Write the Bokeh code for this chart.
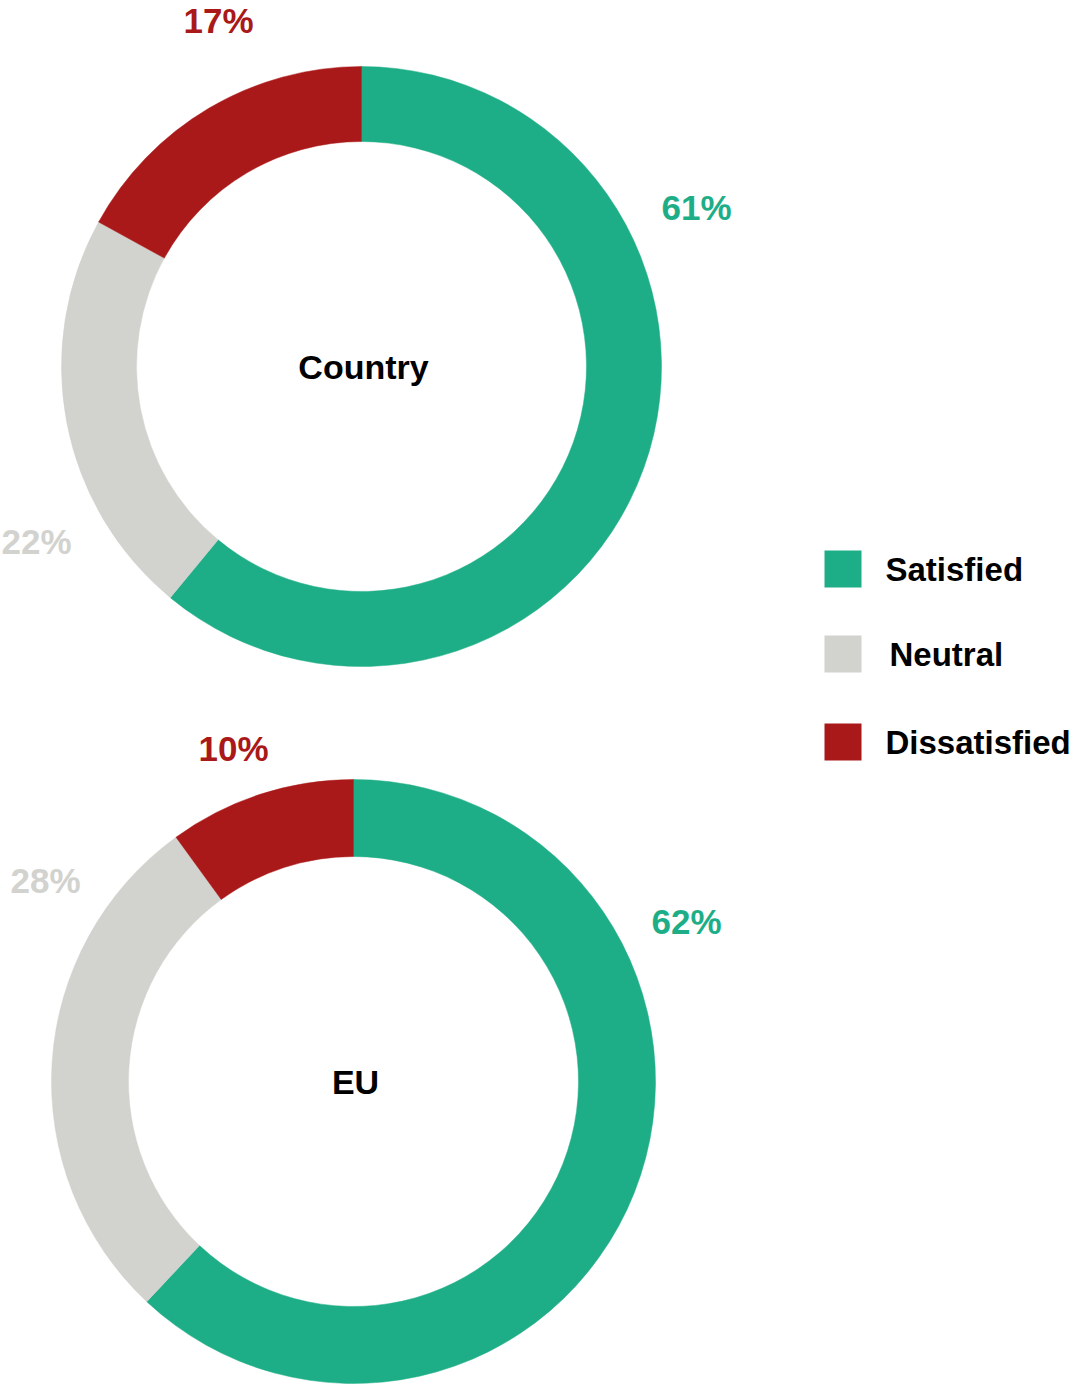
import math
from bokeh.plotting import figure
from bokeh.models import ColumnDataSource
from bokeh.core.properties import value
from bokeh.embed import file_html
from bokeh.resources import INLINE

# ---------------- data ----------------
categories = ["Satisfied", "Neutral", "Dissatisfied"]
country_values = [61, 22, 17]
eu_values = [62, 28, 10]
chart_titles = ["Country", "EU"]
colors = ["#1EAE87", "#D2D2CE", "#AA1919"]

# ---------------- layout ----------------
W, H = 1078, 1384
FONT = "Liberation Sans"

def ref_to_data(x, y):
    return x, H - y

donuts = [
    dict(values=country_values, title=chart_titles[0], center=ref_to_data(361, 366),
         r_out=300, r_in=225,
         label_offsets=[(335, 159), (-325, -175), (-143, 346)]),
    dict(values=eu_values, title=chart_titles[1], center=ref_to_data(353, 1081),
         r_out=302, r_in=225,
         label_offsets=[(333, 160), (-308, 201), (-120, 333)]),
]

p = figure(width=W, height=H, x_range=(0, W), y_range=(0, H),
           output_backend="svg", toolbar_location=None, min_border=0)
p.axis.visible = False
p.grid.visible = False
p.outline_line_color = None
p.background_fill_color = "white"

for d in donuts:
    cx, cy = d["center"]
    total = sum(d["values"])
    starts, ends = [], []
    a = math.pi / 2
    for v in d["values"]:
        span = v / total * 2 * math.pi
        starts.append(a)
        ends.append(a - span)
        a -= span
    src = ColumnDataSource(dict(x=[cx] * 3, y=[cy] * 3, start=starts, end=ends,
                                color=colors, cat=categories))
    p.annular_wedge(x="x", y="y", inner_radius=d["r_in"], outer_radius=d["r_out"],
                    start_angle="start", end_angle="end", direction="clock",
                    fill_color="color", line_color="color", line_width=0.5, source=src)
    lsrc = ColumnDataSource(dict(
        x=[cx + o[0] for o in d["label_offsets"]],
        y=[cy + o[1] for o in d["label_offsets"]],
        t=[f"{v}%" for v in d["values"]],
        color=colors))
    p.text(x="x", y="y", text="t", text_color="color", source=lsrc,
           text_font=value(FONT), text_font_style="bold", text_font_size="35px",
           text_align="center", text_baseline="middle")
    p.text(x=[cx + 2], y=[cy], text=[d["title"]], text_color="black",
           text_font=value(FONT), text_font_style="bold", text_font_size="34px",
           text_align="center", text_baseline="middle")

# legend
leg_x, _ = ref_to_data(842.5, 0)
leg_ys = [ref_to_data(0, yy)[1] for yy in (568.5, 653.5, 741.5)]
leg_tx = [ref_to_data(xx, 0)[0] for xx in (885, 889, 885)]
p.scatter(x=[leg_x] * 3, y=leg_ys, marker="square", size=37,
          fill_color=colors, line_color=None)
p.text(x=leg_tx, y=leg_ys, text=categories, text_color="black",
       text_font=value(FONT), text_font_style="bold", text_font_size="33px",
       text_align="left", text_baseline="middle")

open("out.html", "w").write(file_html(p, INLINE))
